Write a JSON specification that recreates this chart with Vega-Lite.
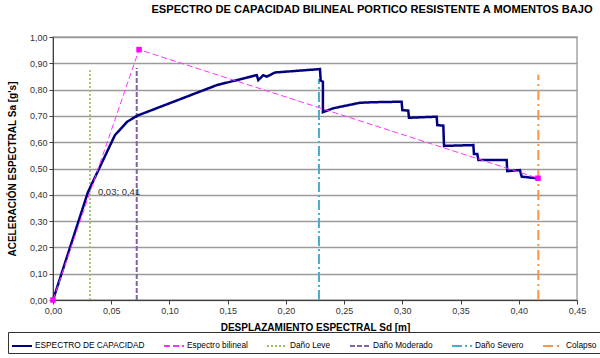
{
  "$schema": "https://vega.github.io/schema/vega-lite/v6.json",
  "width": 524,
  "height": 263,
  "autosize": "none",
  "padding": {"left": 53, "top": 37, "right": 23, "bottom": 58},
  "background": "white",
  "title": {
    "text": "ESPECTRO DE CAPACIDAD BILINEAL PORTICO RESISTENTE A MOMENTOS BAJO",
    "font": "Liberation Sans",
    "fontSize": 11.1,
    "fontWeight": "bold",
    "color": "#000000",
    "anchor": "middle",
    "dx": 57,
    "offset": 18
  },
  "config": {
    "font": "Liberation Sans",
    "view": {"stroke": "#a6a6a6", "strokeWidth": 1.5}
  },
  "datasets": {
    "lines": [
      {"series": "Daño Leve", "i": 1, "x": 0.0318, "y": 0},
      {"series": "Daño Leve", "i": 2, "x": 0.0318, "y": 0.875},
      {"series": "Daño Moderado", "i": 1, "x": 0.0719, "y": 0},
      {"series": "Daño Moderado", "i": 2, "x": 0.0719, "y": 0.882},
      {"series": "Daño Severo", "i": 1, "x": 0.2284, "y": 0},
      {"series": "Daño Severo", "i": 2, "x": 0.2284, "y": 0.84},
      {"series": "Colapso", "i": 1, "x": 0.4168, "y": 0},
      {"series": "Colapso", "i": 2, "x": 0.4168, "y": 0.856},
      {"series": "ESPECTRO DE CAPACIDAD", "i": 1, "x": 0, "y": 0},
      {"series": "ESPECTRO DE CAPACIDAD", "i": 2, "x": 0.030, "y": 0.41},
      {"series": "ESPECTRO DE CAPACIDAD", "i": 3, "x": 0.0532, "y": 0.627},
      {"series": "ESPECTRO DE CAPACIDAD", "i": 4, "x": 0.0638, "y": 0.678},
      {"series": "ESPECTRO DE CAPACIDAD", "i": 5, "x": 0.0719, "y": 0.700},
      {"series": "ESPECTRO DE CAPACIDAD", "i": 6, "x": 0.1406, "y": 0.817},
      {"series": "ESPECTRO DE CAPACIDAD", "i": 7, "x": 0.1606, "y": 0.839},
      {"series": "ESPECTRO DE CAPACIDAD", "i": 8, "x": 0.175, "y": 0.855},
      {"series": "ESPECTRO DE CAPACIDAD", "i": 9, "x": 0.1763, "y": 0.836},
      {"series": "ESPECTRO DE CAPACIDAD", "i": 10, "x": 0.1806, "y": 0.855},
      {"series": "ESPECTRO DE CAPACIDAD", "i": 11, "x": 0.1835, "y": 0.849},
      {"series": "ESPECTRO DE CAPACIDAD", "i": 12, "x": 0.1906, "y": 0.865},
      {"series": "ESPECTRO DE CAPACIDAD", "i": 13, "x": 0.2293, "y": 0.878},
      {"series": "ESPECTRO DE CAPACIDAD", "i": 14, "x": 0.2299, "y": 0.834},
      {"series": "ESPECTRO DE CAPACIDAD", "i": 15, "x": 0.2318, "y": 0.830},
      {"series": "ESPECTRO DE CAPACIDAD", "i": 16, "x": 0.2318, "y": 0.714},
      {"series": "ESPECTRO DE CAPACIDAD", "i": 17, "x": 0.2407, "y": 0.729},
      {"series": "ESPECTRO DE CAPACIDAD", "i": 18, "x": 0.2636, "y": 0.750},
      {"series": "ESPECTRO DE CAPACIDAD", "i": 19, "x": 0.275, "y": 0.752},
      {"series": "ESPECTRO DE CAPACIDAD", "i": 20, "x": 0.2994, "y": 0.754},
      {"series": "ESPECTRO DE CAPACIDAD", "i": 21, "x": 0.300, "y": 0.722},
      {"series": "ESPECTRO DE CAPACIDAD", "i": 22, "x": 0.3051, "y": 0.720},
      {"series": "ESPECTRO DE CAPACIDAD", "i": 23, "x": 0.3057, "y": 0.693},
      {"series": "ESPECTRO DE CAPACIDAD", "i": 24, "x": 0.3295, "y": 0.697},
      {"series": "ESPECTRO DE CAPACIDAD", "i": 25, "x": 0.330, "y": 0.665},
      {"series": "ESPECTRO DE CAPACIDAD", "i": 26, "x": 0.3352, "y": 0.663},
      {"series": "ESPECTRO DE CAPACIDAD", "i": 27, "x": 0.3358, "y": 0.586},
      {"series": "ESPECTRO DE CAPACIDAD", "i": 28, "x": 0.361, "y": 0.589},
      {"series": "ESPECTRO DE CAPACIDAD", "i": 29, "x": 0.3615, "y": 0.555},
      {"series": "ESPECTRO DE CAPACIDAD", "i": 30, "x": 0.3644, "y": 0.555},
      {"series": "ESPECTRO DE CAPACIDAD", "i": 31, "x": 0.3653, "y": 0.532},
      {"series": "ESPECTRO DE CAPACIDAD", "i": 32, "x": 0.3896, "y": 0.532},
      {"series": "ESPECTRO DE CAPACIDAD", "i": 33, "x": 0.3901, "y": 0.490},
      {"series": "ESPECTRO DE CAPACIDAD", "i": 34, "x": 0.401, "y": 0.494},
      {"series": "ESPECTRO DE CAPACIDAD", "i": 35, "x": 0.4025, "y": 0.469},
      {"series": "ESPECTRO DE CAPACIDAD", "i": 36, "x": 0.4154, "y": 0.463},
      {"series": "Espectro bilineal", "i": 1, "x": 0, "y": 0},
      {"series": "Espectro bilineal", "i": 2, "x": 0.0739, "y": 0.952},
      {"series": "Espectro bilineal", "i": 3, "x": 0.4165, "y": 0.463}
    ],
    "labels": [
      {"x": 0.030, "y": 0.41, "label": "0,03; 0,41"}
    ]
  },
  "encoding": {
    "x": {
      "field": "x", "type": "quantitative",
      "scale": {"domain": [0, 0.45], "nice": false, "zero": true},
      "axis": {
        "values": [0, 0.05, 0.1, 0.15, 0.2, 0.25, 0.3, 0.35, 0.4, 0.45],
        "labelExpr": "replace(format(datum.value, '.2f'), '.', ',')",
        "labelOverlap": false,
        "grid": false,
        "tickSize": 4,
        "tickColor": "#404040",
        "domainColor": "#404040",
        "labelFontSize": 9,
        "labelColor": "#333333",
        "labelPadding": 2,
        "labelFlush": false,
        "title": "DESPLAZAMIENTO ESPECTRAL Sd [m]",
        "titleFontSize": 10,
        "titleFontWeight": "bold",
        "titleColor": "#000000",
        "titlePadding": 7
      }
    },
    "y": {
      "field": "y", "type": "quantitative",
      "scale": {"domain": [0, 1], "nice": false},
      "axis": {
        "values": [0, 0.1, 0.2, 0.3, 0.4, 0.5, 0.6, 0.7, 0.8, 0.9, 1.0],
        "labelExpr": "replace(format(datum.value, '.2f'), '.', ',')",
        "labelOverlap": false,
        "grid": true,
        "gridColor": "#9a9a9a",
        "gridWidth": 1.5,
        "tickSize": 4,
        "tickColor": "#404040",
        "domainColor": "#404040",
        "labelFontSize": 9,
        "labelColor": "#333333",
        "labelPadding": 2,
        "labelFlush": false,
        "title": "ACELERACIÓN ESPECTRAL Sa [g's]",
        "titleFontSize": 10,
        "titleFontWeight": "bold",
        "titleColor": "#000000",
        "titlePadding": 12
      }
    },
    "order": {"field": "i", "type": "quantitative"},
    "color": {
      "field": "series", "type": "nominal",
      "scale": {
        "domain": ["ESPECTRO DE CAPACIDAD", "Espectro bilineal", "Daño Leve", "Daño Moderado", "Daño Severo", "Colapso"],
        "range": ["#000080", "#FF33FF", "#9BBB59", "#8064A2", "#4BACC6", "#F79646"]
      },
      "legend": {
        "title": null,
        "orient": "none",
        "legendX": -45,
        "legendY": 295,
        "direction": "horizontal",
        "columns": 6,
        "symbolType": "stroke",
        "symbolSize": 400,
        "symbolStrokeWidth": 2,
        "labelFontSize": 8.3,
        "labelOffset": 2,
        "labelColor": "#000000",
        "columnPadding": 15,
        "strokeColor": "#333333",
        "padding": 3,
        "labelLimit": 200
      }
    },
    "strokeDash": {
      "field": "series", "type": "nominal",
      "scale": {
        "domain": ["ESPECTRO DE CAPACIDAD", "Espectro bilineal", "Daño Leve", "Daño Moderado", "Daño Severo", "Colapso"],
        "range": [[1, 0], [6, 3], [2, 2], [5, 2], [10, 3, 2, 3], [10, 4, 2, 4]]
      }
    }
  },
  "layer": [
    {
      "data": {"name": "lines"},
      "transform": [{"filter": "datum.series == 'Daño Leve'"}],
      "mark": {"type": "line", "strokeCap": "butt", "strokeWidth": 1.6}
    },
    {
      "data": {"name": "lines"},
      "transform": [{"filter": "indexof(['Daño Moderado','Daño Severo','Colapso'], datum.series) >= 0"}],
      "mark": {"type": "line", "strokeCap": "butt", "strokeWidth": 2}
    },
    {
      "data": {"name": "lines"},
      "transform": [{"filter": "datum.series == 'ESPECTRO DE CAPACIDAD'"}],
      "mark": {"type": "line", "strokeCap": "butt", "strokeJoin": "miter", "strokeWidth": 2.5}
    },
    {
      "data": {"name": "lines"},
      "transform": [{"filter": "datum.series == 'Espectro bilineal'"}],
      "mark": {"type": "line", "strokeCap": "butt", "strokeWidth": 1}
    },
    {
      "data": {"name": "lines"},
      "transform": [{"filter": "datum.series == 'Espectro bilineal'"}],
      "mark": {"type": "point", "shape": "square", "filled": true, "size": 30, "opacity": 1},
      "encoding": {
        "color": {"value": "#FF00FF"},
        "strokeDash": {"value": [1, 0]},
        "order": {"value": 0}
      }
    },
    {
      "data": {"name": "labels"},
      "mark": {"type": "text", "align": "left", "baseline": "middle", "dx": 10, "fontSize": 9.5},
      "encoding": {
        "text": {"field": "label", "type": "nominal"},
        "color": {"value": "#333333"},
        "strokeDash": {"value": [1, 0]},
        "order": {"value": 0}
      }
    }
  ]
}
